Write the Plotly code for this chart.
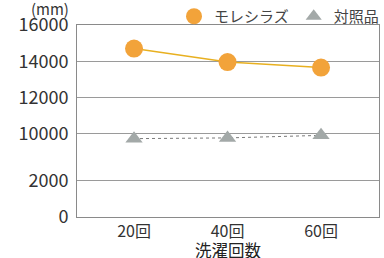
import plotly.graph_objects as go

categories = ["20回", "40回", "60回"]
moreshiraz = [14700, 13950, 13650]
control = [9720, 9760, 9900]
tick_values = [0, 2000, 10000, 12000, 14000, 16000]
tick_labels = ["0", "2000", "10000", "12000", "14000", "16000"]

# broken axis: 0-2000 linear, gap, 10000-16000 linear
GAP = 47 / 36

def tr(v):
    if v <= 2000:
        return v / 2000
    return 1 + GAP + (v - 10000) / 2000

FONT = "Noto Sans CJK JP"
ORANGE = "#F2A33A"
GRAY = "#A3A9A8"
xs = [0, 1, 2]

fig = go.Figure()
fig.add_trace(go.Scatter(x=xs, y=[tr(v) for v in control], mode="lines+markers",
                         line=dict(color="#7a7a7a", width=1, dash="dot"),
                         marker=dict(symbol="triangle-up", size=15, color=GRAY),
                         showlegend=False))
fig.add_trace(go.Scatter(x=xs, y=[tr(v) for v in moreshiraz], mode="lines+markers",
                         line=dict(color="#E8B020", width=1.5),
                         marker=dict(symbol="circle", size=18, color=ORANGE),
                         showlegend=False))
fig.add_trace(go.Scatter(x=[None], y=[None], mode="markers", name="モレシラズ",
                         marker=dict(symbol="circle", size=16, color=ORANGE)))
fig.add_trace(go.Scatter(x=[None], y=[None], mode="markers", name="対照品",
                         marker=dict(symbol="triangle-up", size=14, color=GRAY)))

fig.update_layout(
    width=384, height=258,
    margin=dict(l=77, r=5, t=25, b=41, autoexpand=False),
    paper_bgcolor="white", plot_bgcolor="white",
    font=dict(family=FONT, color="#333333"),
    legend=dict(orientation="h", xref="container", yref="container",
                x=1.0, xanchor="right", y=1.0, yanchor="top",
                font=dict(size=15, color="#444"),
                bgcolor="rgba(0,0,0,0)", itemsizing="trace",
                borderwidth=0),
    xaxis=dict(range=[-0.61, 2.62], tickmode="array", tickvals=xs, ticktext=categories,
               showgrid=False, zeroline=False, showline=True, mirror=True,
               linecolor="#8a8a8a", linewidth=1, tickfont=dict(size=16, color="#333"),
               automargin=False),
    yaxis=dict(range=[0, tr(16000)], tickmode="array",
               tickvals=[tr(v) for v in tick_values], ticktext=tick_labels,
               showgrid=True, gridcolor="#9a9a9a", gridwidth=1, zeroline=False,
               showline=True, mirror=True, linecolor="#8a8a8a", linewidth=1,
               tickfont=dict(size=18, color="#333"), ticklabelstandoff=4,
               automargin=False),
    annotations=[
        dict(text="(mm)", xref="paper", yref="paper", x=-0.02, y=1.0,
             xanchor="right", yanchor="bottom", showarrow=False,
             font=dict(size=15, color="#333"), yshift=4),
        dict(text="洗濯回数", xref="paper", yref="paper", x=0.5, y=0,
             xanchor="center", yanchor="top", showarrow=False,
             font=dict(size=16.5, color="#222"), yshift=-19),
    ],
)

fig.write_html("out.html", config={"displayModeBar": False},
               post_script="document.body.style.margin='0';")
